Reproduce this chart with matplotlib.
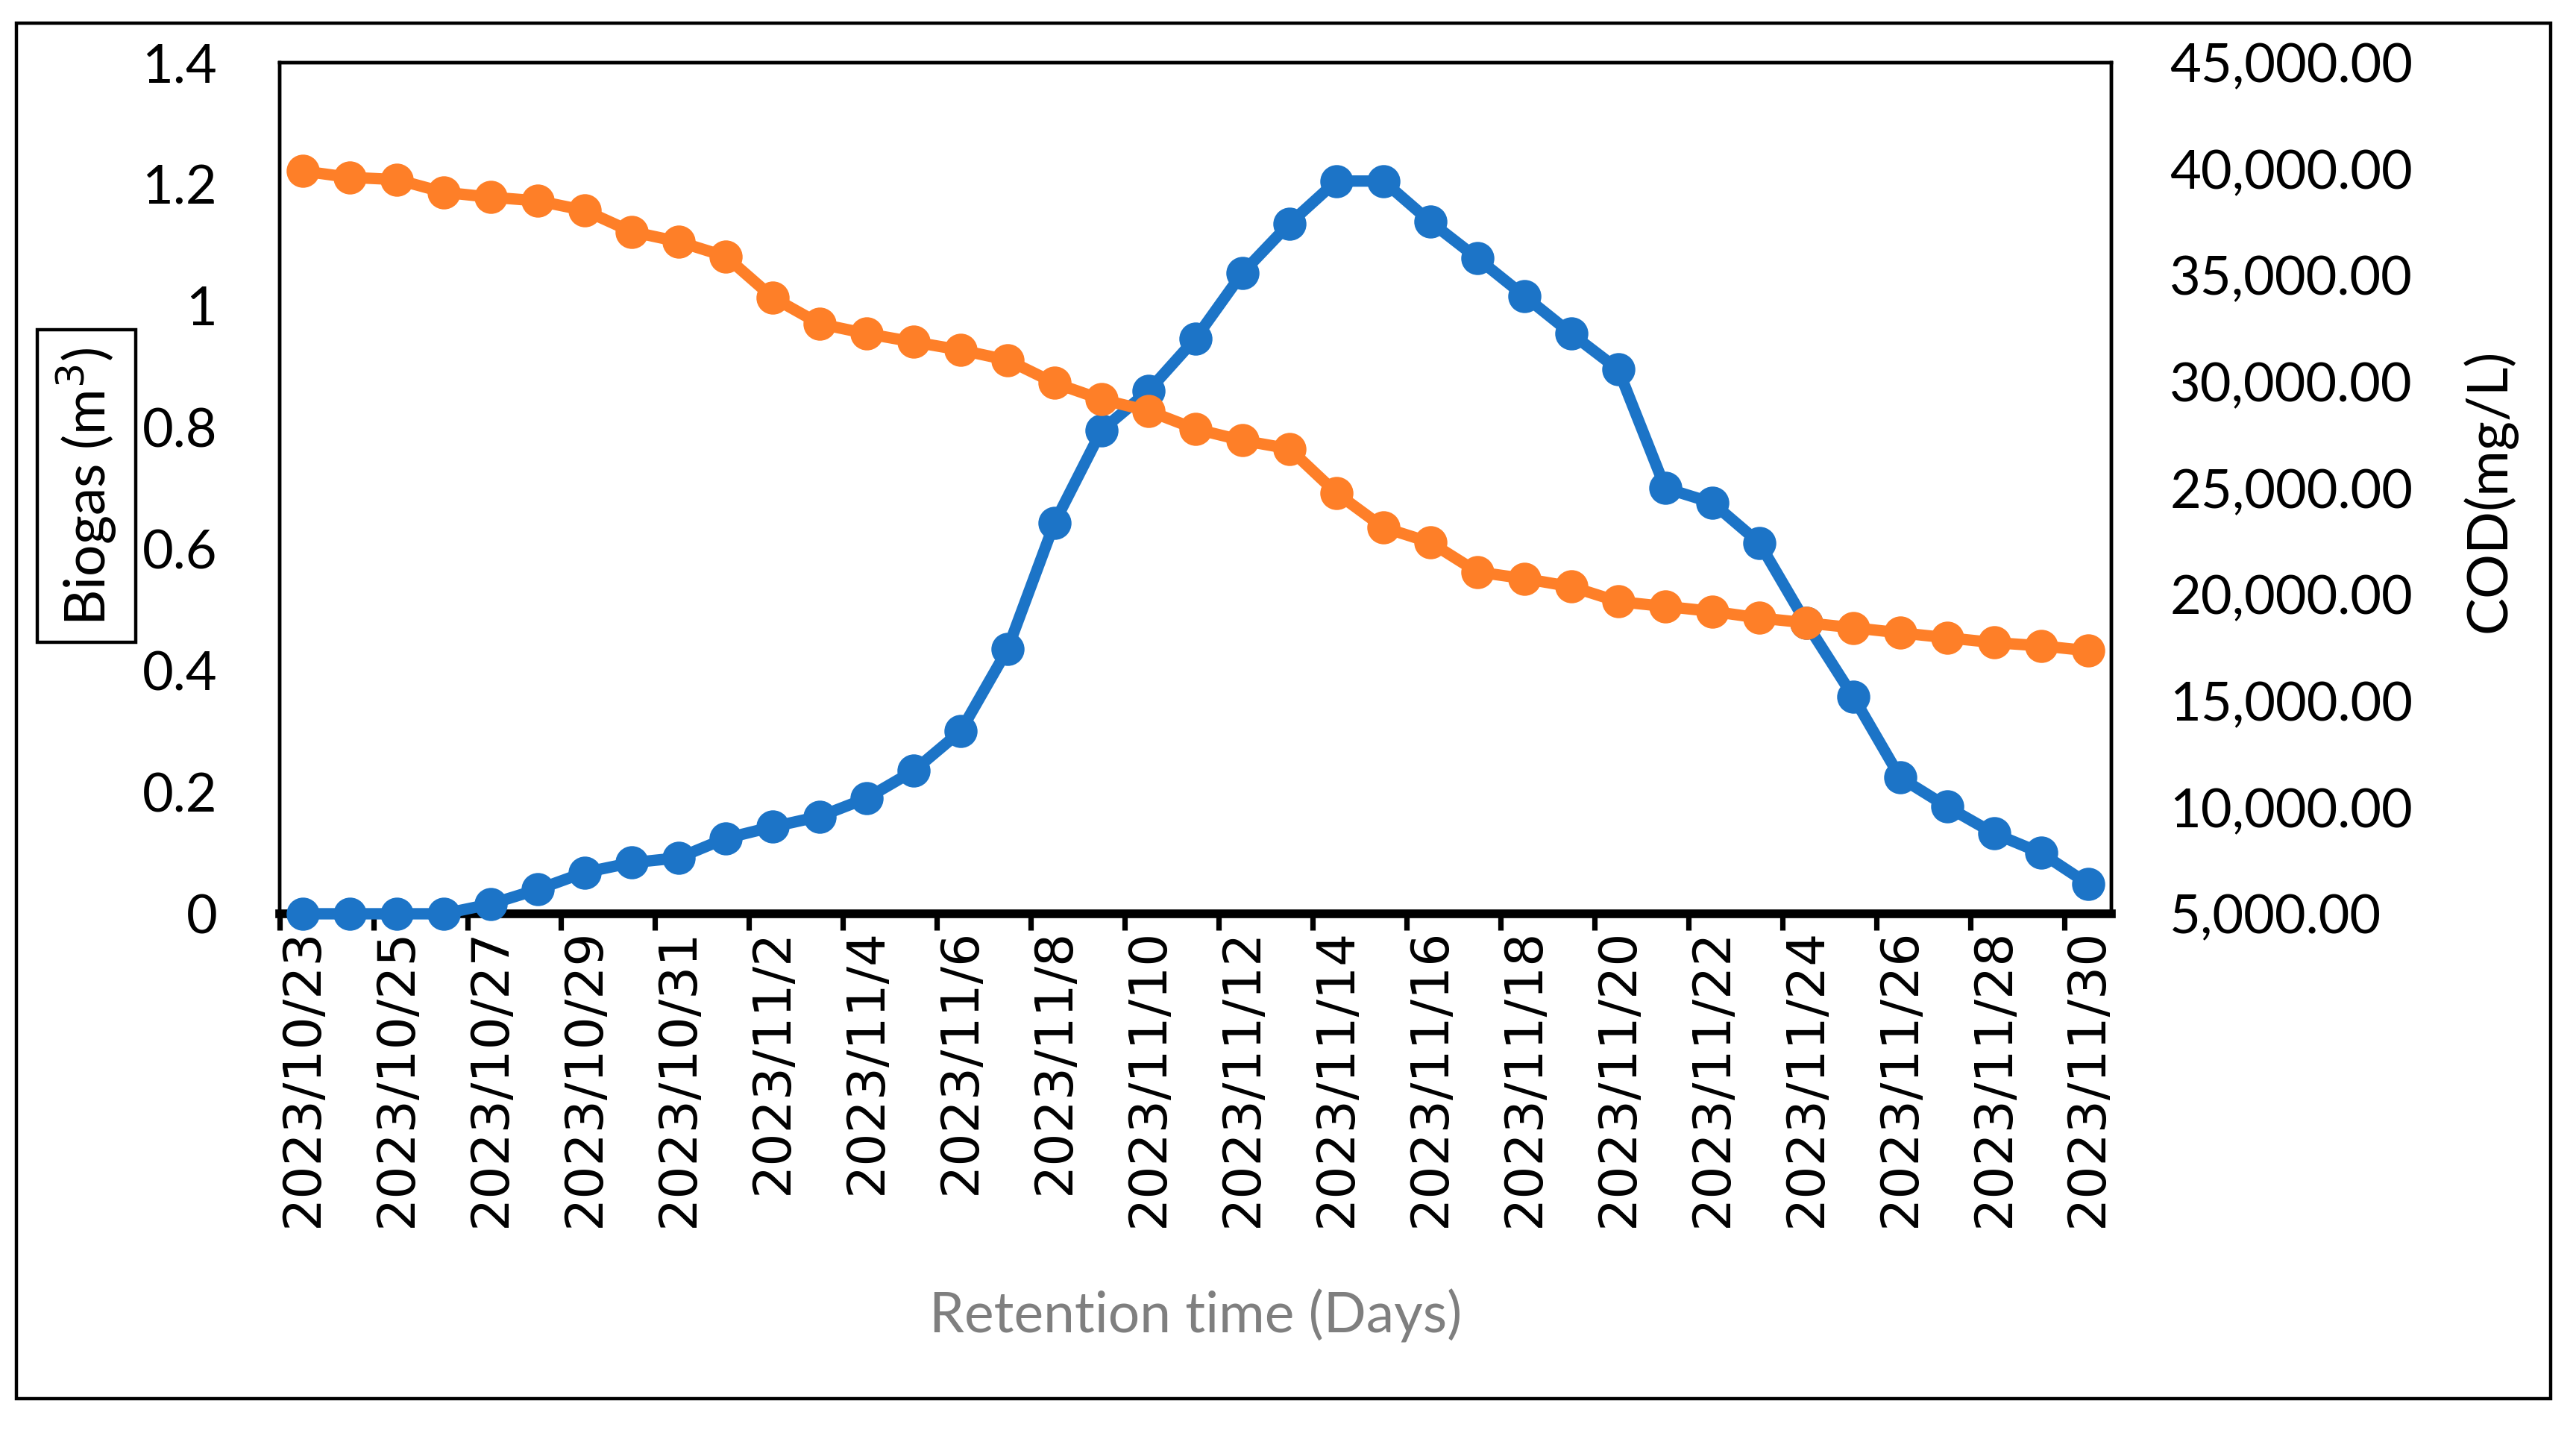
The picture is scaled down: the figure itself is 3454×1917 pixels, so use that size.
import numpy as np
import matplotlib
matplotlib.use("Agg")
import matplotlib.pyplot as plt
from matplotlib.patches import Rectangle
from matplotlib.ticker import FuncFormatter, FixedLocator


# dates 2023/10/23 .. 2023/11/30
dates = [f"2023/10/{d}" for d in range(23, 32)] + [f"2023/11/{d}" for d in range(1, 31)]

biogas = [0, 0, 0, 0, 0.016, 0.04, 0.068, 0.084, 0.092, 0.124,
          0.143, 0.16, 0.19, 0.235, 0.30, 0.435, 0.643, 0.795, 0.86, 0.946,
          1.054, 1.135, 1.205, 1.205, 1.138, 1.078, 1.016, 0.954, 0.895, 0.70,
          0.676, 0.61, 0.478, 0.357, 0.224, 0.176, 0.132, 0.10, 0.049]

cod = [39900, 39600, 39500, 38900, 38670, 38500, 38050, 37050, 36580, 35890,
       33960, 32720, 32260, 31870, 31490, 31020, 29940, 29170, 28630, 27780,
       27240, 26850, 24770, 23150, 22450, 21060, 20750, 20370, 19670, 19440,
       19210, 18900, 18670, 18440, 18200, 17970, 17740, 17590, 17360]

BLUE = "#1C74C7"
ORANGE = "#FE7F28"
FONT = "Lato"

fig = plt.figure(figsize=(17.275, 9.585), dpi=200)

# outer frame
fig.patches.append(Rectangle((0.0064, 0.022), 0.9836, 0.962, transform=fig.transFigure,
                             fill=False, edgecolor="black", linewidth=1.6))

ax = fig.add_axes([0.1084, 0.361, 0.7111, 0.5953])
ax2 = ax.twinx()

x = np.arange(len(dates))

ax.plot(x, biogas, color=BLUE, linewidth=5.5, marker="o", markersize=15,
        clip_on=False, zorder=3)
ax2.plot(x, cod, color=ORANGE, linewidth=5.5, marker="o", markersize=15,
         clip_on=False, zorder=3)

ax.set_xlim(-0.5, len(dates) - 0.5)
ax.set_ylim(0, 1.4)
ax2.set_ylim(5000, 45000)

# ── y axes ─────────────────────────────
ax.set_yticks(np.arange(0, 1.41, 0.2))
ax.yaxis.set_major_formatter(FuncFormatter(lambda v, p: f"{v:g}"))
ax.tick_params(axis="y", length=0, pad=30, labelsize=26)
ax2.set_yticks(np.arange(5000, 45001, 5000))
ax2.yaxis.set_major_formatter(FuncFormatter(lambda v, p: f"{v:,.2f}"))
ax2.tick_params(axis="y", length=0, pad=28, labelsize=26)
for lbl in ax.get_yticklabels() + ax2.get_yticklabels():
    lbl.set_fontfamily(FONT)

# ── x axis ─────────────────────────────
ax.xaxis.set_major_locator(FixedLocator(np.arange(-0.5, len(dates), 2)))
ax.xaxis.set_major_formatter(FuncFormatter(lambda v, p: ""))
ax.xaxis.set_minor_locator(FixedLocator(x[::2]))
ax.set_xticklabels(dates[::2], minor=True, rotation=90, fontsize=25,
                   fontfamily="DejaVu Sans")
ax.tick_params(axis="x", which="major", length=8, width=2.6, direction="out")
ax.tick_params(axis="x", which="minor", length=0, pad=7)

for sp in ["top", "right", "left"]:
    ax.spines[sp].set_linewidth(1.6)
    ax2.spines[sp].set_linewidth(1.6)
ax.spines["bottom"].set_linewidth(4.2)
ax2.spines["bottom"].set_visible(False)

# ── labels ─────────────────────────────
fig.text(0.464, 0.080, "Retention time (Days)", color="#7F7F7F", fontsize=27,
         fontfamily=FONT, ha="center", va="center")
fig.text(0.966, 0.657, "COD(mg/L)", rotation=90, fontsize=27,
         fontfamily=FONT, ha="center", va="center")
fig.text(0.0335, 0.66, "Biogas (m$^3$)", rotation=90, fontsize=27,
         fontfamily=FONT, ha="center", va="center",
         bbox=dict(boxstyle="square,pad=0.3", facecolor="white",
                   edgecolor="black", linewidth=1.6))

fig.savefig("out.png", dpi=200)
